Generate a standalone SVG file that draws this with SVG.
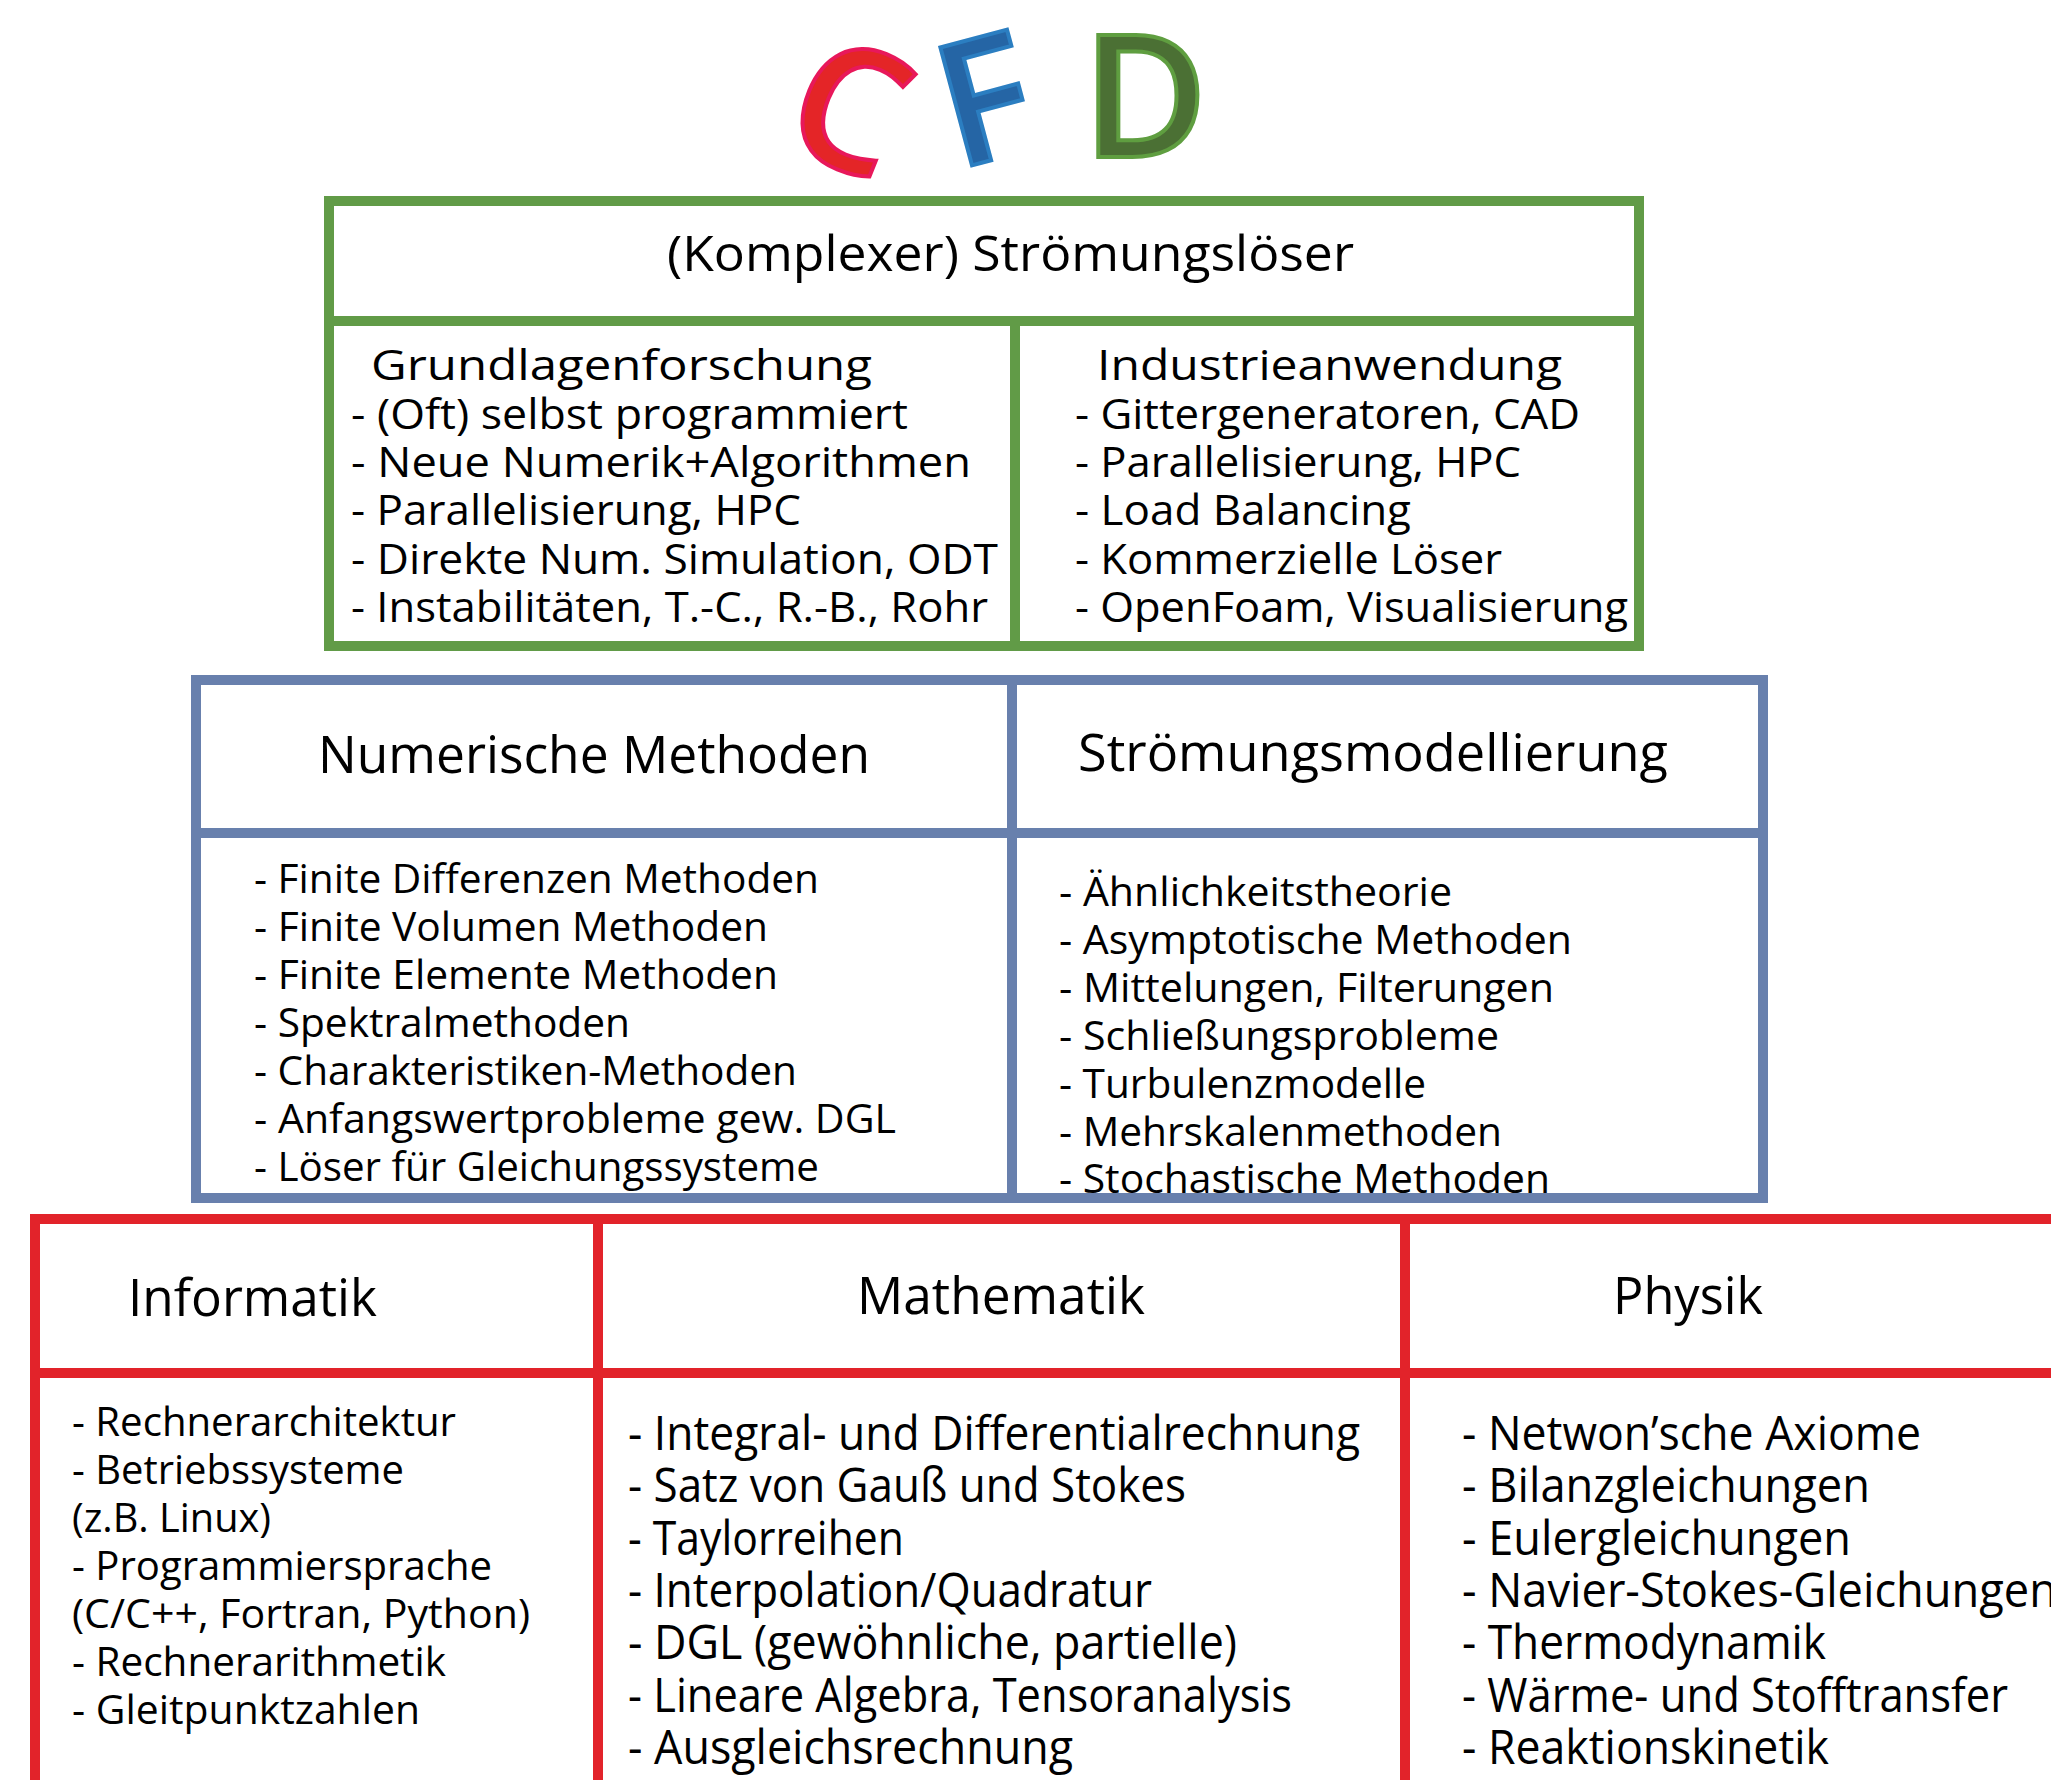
<svg xmlns="http://www.w3.org/2000/svg" width="2051" height="1780" viewBox="0 0 2051 1780">
<style>
.t{font-family:"Open Sans","Noto Sans","Liberation Sans",sans-serif;fill:#000}
.g{fill:none;stroke:#619b47;stroke-width:10}
.b{fill:none;stroke:#6880ad;stroke-width:10}
.r{fill:none;stroke:#e2232a;stroke-width:10}
.s42{font-size:42px}
.s40{font-size:40px}
.s47{font-size:47px}
.s49{font-size:49px}
.s51{font-size:51px}
.big{font-family:"Open Sans","Noto Sans","Liberation Sans",sans-serif;font-weight:600;font-size:171px;stroke-width:4;text-anchor:middle}
</style>
<rect width="2051" height="1780" fill="#fff"/>
<g id="logo">
<text class="big" x="850" y="168" fill="#e42527" stroke="#e8185a" transform="rotate(22 850 107)">C</text>
<text class="big" x="985" y="162" fill="#2565a5" stroke="#2b7ec1" transform="rotate(-15 976 101)">F</text>
<text class="big" x="1145" y="157" fill="#4b7034" stroke="#5f9e40">D</text>
</g>
<g id="connectors"></g>
<g id="stroemungsloeser">
<rect class="g" x="329" y="201" width="1310" height="445"/>
<line class="g" x1="329" y1="321" x2="1639" y2="321"/>
<line class="g" x1="1015" y1="321" x2="1015" y2="646"/>
<text class="t s49" x="667" y="271" textLength="687" lengthAdjust="spacingAndGlyphs">(Komplexer) Strömungslöser</text>
</g>
<g id="grundlagenforschung" class="t s42">
<text x="371" y="380" textLength="501" lengthAdjust="spacingAndGlyphs">Grundlagenforschung</text>
<text x="351" y="429" textLength="557" lengthAdjust="spacingAndGlyphs">- (Oft) selbst programmiert</text>
<text x="351" y="477" textLength="620" lengthAdjust="spacingAndGlyphs">- Neue Numerik+Algorithmen</text>
<text x="351" y="525" textLength="450" lengthAdjust="spacingAndGlyphs">- Parallelisierung, HPC</text>
<text x="351" y="574" textLength="647" lengthAdjust="spacingAndGlyphs">- Direkte Num. Simulation, ODT</text>
<text x="351" y="622" textLength="637" lengthAdjust="spacingAndGlyphs">- Instabilitäten, T.-C., R.-B., Rohr</text>
</g>
<g id="industrieanwendung" class="t s42">
<text x="1097" y="380" textLength="465" lengthAdjust="spacingAndGlyphs">Industrieanwendung</text>
<text x="1075" y="429" textLength="505" lengthAdjust="spacingAndGlyphs">- Gittergeneratoren, CAD</text>
<text x="1075" y="477" textLength="446" lengthAdjust="spacingAndGlyphs">- Parallelisierung, HPC</text>
<text x="1075" y="525" textLength="336" lengthAdjust="spacingAndGlyphs">- Load Balancing</text>
<text x="1075" y="574" textLength="427" lengthAdjust="spacingAndGlyphs">- Kommerzielle Löser</text>
<text x="1075" y="622" textLength="553" lengthAdjust="spacingAndGlyphs">- OpenFoam, Visualisierung</text>
</g>
<g id="blue-frame">
<rect class="b" x="196" y="680" width="1567" height="518"/>
<line class="b" x1="196" y1="833" x2="1763" y2="833"/>
<line class="b" x1="1012" y1="680" x2="1012" y2="1198"/>
</g>
<g id="numerische-methoden" class="t s40">
<text class="s51" x="318" y="773" textLength="552" lengthAdjust="spacingAndGlyphs">Numerische Methoden</text>
<text x="254" y="893" textLength="565" lengthAdjust="spacingAndGlyphs">- Finite Differenzen Methoden</text>
<text x="254" y="941" textLength="514" lengthAdjust="spacingAndGlyphs">- Finite Volumen Methoden</text>
<text x="254" y="989" textLength="524" lengthAdjust="spacingAndGlyphs">- Finite Elemente Methoden</text>
<text x="254" y="1037" textLength="376" lengthAdjust="spacingAndGlyphs">- Spektralmethoden</text>
<text x="254" y="1085" textLength="543" lengthAdjust="spacingAndGlyphs">- Charakteristiken-Methoden</text>
<text x="254" y="1133" textLength="642" lengthAdjust="spacingAndGlyphs">- Anfangswertprobleme gew. DGL</text>
<text x="254" y="1181" textLength="565" lengthAdjust="spacingAndGlyphs">- Löser für Gleichungssysteme</text>
</g>
<g id="stroemungsmodellierung" class="t s40">
<text class="s51" x="1078" y="771" textLength="590" lengthAdjust="spacingAndGlyphs">Strömungsmodellierung</text>
<text x="1059" y="906" textLength="393" lengthAdjust="spacingAndGlyphs">- Ähnlichkeitstheorie</text>
<text x="1059" y="954" textLength="513" lengthAdjust="spacingAndGlyphs">- Asymptotische Methoden</text>
<text x="1059" y="1002" textLength="495" lengthAdjust="spacingAndGlyphs">- Mittelungen, Filterungen</text>
<text x="1059" y="1050" textLength="440" lengthAdjust="spacingAndGlyphs">- Schließungsprobleme</text>
<text x="1059" y="1098" textLength="367" lengthAdjust="spacingAndGlyphs">- Turbulenzmodelle</text>
<text x="1059" y="1146" textLength="443" lengthAdjust="spacingAndGlyphs">- Mehrskalenmethoden</text>
<text x="1059" y="1193" textLength="491" lengthAdjust="spacingAndGlyphs">- Stochastische Methoden</text>
</g>
<g id="red-frame">
<rect class="r" x="35" y="1219" width="2040" height="600"/>
<line class="r" x1="35" y1="1373" x2="2060" y2="1373"/>
<line class="r" x1="598" y1="1219" x2="598" y2="1790"/>
<line class="r" x1="1405" y1="1219" x2="1405" y2="1790"/>
</g>
<g id="informatik" class="t s40">
<text class="s51" x="128" y="1316" textLength="249" lengthAdjust="spacingAndGlyphs">Informatik</text>
<text x="72" y="1436" textLength="384" lengthAdjust="spacingAndGlyphs">- Rechnerarchitektur</text>
<text x="72" y="1484" textLength="332" lengthAdjust="spacingAndGlyphs">- Betriebssysteme</text>
<text x="72" y="1532" textLength="199" lengthAdjust="spacingAndGlyphs">(z.B. Linux)</text>
<text x="72" y="1580" textLength="420" lengthAdjust="spacingAndGlyphs">- Programmiersprache</text>
<text x="72" y="1628" textLength="458" lengthAdjust="spacingAndGlyphs">(C/C++, Fortran, Python)</text>
<text x="72" y="1676" textLength="374" lengthAdjust="spacingAndGlyphs">- Rechnerarithmetik</text>
<text x="72" y="1724" textLength="348" lengthAdjust="spacingAndGlyphs">- Gleitpunktzahlen</text>
</g>
<g id="mathematik" class="t s47">
<text class="s51" x="857" y="1314" textLength="288" lengthAdjust="spacingAndGlyphs">Mathematik</text>
<text x="628" y="1450" textLength="732" lengthAdjust="spacingAndGlyphs">- Integral- und Differentialrechnung</text>
<text x="628" y="1502" textLength="558" lengthAdjust="spacingAndGlyphs">- Satz von Gauß und Stokes</text>
<text x="628" y="1555" textLength="276" lengthAdjust="spacingAndGlyphs">- Taylorreihen</text>
<text x="628" y="1607" textLength="524" lengthAdjust="spacingAndGlyphs">- Interpolation/Quadratur</text>
<text x="628" y="1659" textLength="609" lengthAdjust="spacingAndGlyphs">- DGL (gewöhnliche, partielle)</text>
<text x="628" y="1712" textLength="664" lengthAdjust="spacingAndGlyphs">- Lineare Algebra, Tensoranalysis</text>
<text x="628" y="1764" textLength="445" lengthAdjust="spacingAndGlyphs">- Ausgleichsrechnung</text>
</g>
<g id="physik" class="t s47">
<text class="s51" x="1613" y="1314" textLength="150" lengthAdjust="spacingAndGlyphs">Physik</text>
<text x="1462" y="1450" textLength="459" lengthAdjust="spacingAndGlyphs">- Netwon’sche Axiome</text>
<text x="1462" y="1502" textLength="408" lengthAdjust="spacingAndGlyphs">- Bilanzgleichungen</text>
<text x="1462" y="1555" textLength="389" lengthAdjust="spacingAndGlyphs">- Eulergleichungen</text>
<text x="1462" y="1607" textLength="595" lengthAdjust="spacingAndGlyphs">- Navier-Stokes-Gleichungen</text>
<text x="1462" y="1659" textLength="364" lengthAdjust="spacingAndGlyphs">- Thermodynamik</text>
<text x="1462" y="1712" textLength="546" lengthAdjust="spacingAndGlyphs">- Wärme- und Stofftransfer</text>
<text x="1462" y="1764" textLength="367" lengthAdjust="spacingAndGlyphs">- Reaktionskinetik</text>
</g>
</svg>
